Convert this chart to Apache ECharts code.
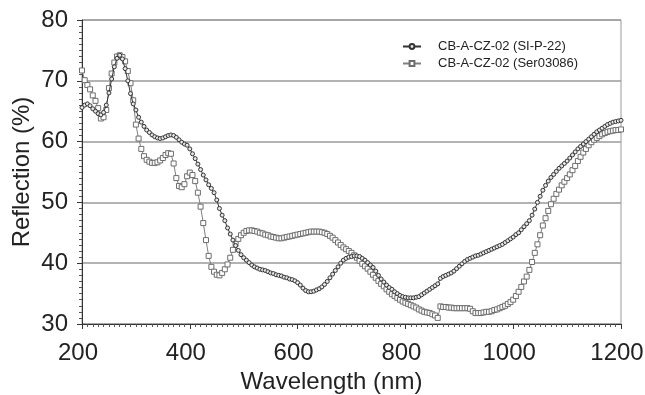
<!DOCTYPE html>
<html>
<head>
<meta charset="utf-8">
<script src="https://cdn.jsdelivr.net/npm/echarts@6/dist/echarts.min.js"></script>
<style>
  html, body { margin: 0; padding: 0; background: #fff; }
  #chart { width: 645px; height: 395px; }
</style>
</head>
<body>
<div id="chart"></div>
<script>
// Reflection spectra, sampled every 5 nm from 200 to 1200 nm
const wavelengths = Array.from({ length: 201 }, (_, i) => 200 + 5 * i);

const seriesNames = ['CB-A-CZ-02 (SI-P-22)', 'CB-A-CZ-02 (Ser03086)'];

const reflectionSIP22 = [
  65.6, 66.0, 66.2, 65.9, 65.4, 65.0, 64.6, 64.4, 64.8, 66.0,
  68.0, 70.3, 72.3, 73.7, 74.2, 73.6, 72.0, 70.0, 67.9, 66.2,
  65.2, 64.0, 63.2, 62.5, 61.9, 61.5, 61.1, 60.8, 60.6, 60.5,
  60.6, 60.8, 61.0, 61.1, 61.0, 60.7, 60.3, 59.9, 59.6, 59.4,
  58.8, 58.0, 57.2, 56.3, 55.4, 54.5, 53.7, 52.9, 52.3, 51.6,
  50.4, 49.0, 47.9, 47.0, 45.8, 44.8, 43.8, 42.9, 42.1, 41.4,
  40.9, 40.5, 40.1, 39.7, 39.4, 39.2, 39.0, 38.9, 38.8, 38.6,
  38.4, 38.3, 38.1, 38.0, 37.9, 37.7, 37.6, 37.4, 37.3, 37.1,
  36.8, 36.4, 35.9, 35.5, 35.3, 35.3, 35.4, 35.6, 35.8, 36.1,
  36.5, 37.0, 37.6, 38.2, 38.8, 39.4, 40.0, 40.5, 40.8, 41.0,
  41.1, 41.2, 41.2, 41.1, 40.8, 40.5, 40.1, 39.7, 39.3, 38.7,
  38.0, 37.4, 36.9, 36.4, 36.0, 35.7, 35.3, 35.0, 34.7, 34.5,
  34.4, 34.3, 34.3, 34.3, 34.4, 34.5, 34.8, 35.1, 35.4, 35.7,
  36.0, 36.3, 36.6, 37.5, 37.8, 38.0, 38.2, 38.4, 38.7, 39.1,
  39.5, 39.9, 40.3, 40.6, 40.8, 41.0, 41.2, 41.3, 41.5, 41.7,
  41.9, 42.1, 42.3, 42.5, 42.7, 42.9, 43.1, 43.4, 43.7, 44.0,
  44.3, 44.7, 45.0, 45.5, 46.0, 46.5, 47.0, 47.9, 48.9, 50.0,
  51.0, 52.0, 52.8, 53.5, 54.1, 54.6, 55.1, 55.6, 56.0, 56.4,
  56.8, 57.3, 57.8, 58.3, 58.8, 59.2, 59.6, 60.0, 60.4, 60.8,
  61.2, 61.6, 61.9, 62.2, 62.5, 62.8, 63.0, 63.2, 63.3, 63.4,
  63.5
];

const reflectionSer03086 = [
  71.7, 70.1, 69.3, 68.6, 67.6, 66.7, 65.5, 63.8, 64.0, 65.2,
  68.8, 71.2, 73.0, 74.0, 74.2, 73.9, 73.2, 71.6, 69.6, 66.8,
  62.8, 60.5, 58.8, 57.6, 57.0, 56.7, 56.5, 56.5, 56.6, 56.9,
  57.3, 57.8, 58.1, 58.0, 56.4, 54.0, 52.7, 52.5, 53.0, 54.3,
  54.9, 54.5, 53.5, 51.6, 49.3, 46.6, 43.8, 41.2, 39.4, 38.6,
  38.1, 38.0, 38.4, 39.0, 39.8, 40.9, 42.2, 43.2, 44.0, 44.6,
  45.0, 45.3, 45.4, 45.4, 45.3, 45.2, 45.0, 44.9, 44.7, 44.6,
  44.4, 44.3, 44.2, 44.1, 44.1, 44.2, 44.3, 44.4, 44.5, 44.6,
  44.7, 44.8, 44.9, 45.0, 45.1, 45.2, 45.2, 45.2, 45.2, 45.1,
  45.0, 44.8, 44.5, 44.2, 43.8, 43.4, 43.0, 42.6, 42.3, 42.0,
  41.7, 41.3, 40.9, 40.4, 39.9, 39.5, 39.1, 38.6, 38.1, 37.6,
  37.1, 36.6, 36.2, 35.7, 35.3, 34.9, 34.6, 34.3, 34.0, 33.7,
  33.5, 33.3, 33.1, 32.9, 32.7, 32.4, 32.2, 32.0, 31.9, 31.8,
  31.6, 31.4, 31.0, 32.9, 32.8, 32.8, 32.7, 32.7, 32.6, 32.6,
  32.6, 32.6, 32.6, 32.6, 32.5, 32.1, 31.8, 31.8, 31.8, 31.9,
  32.0, 32.0, 32.1, 32.3, 32.4, 32.6, 32.8, 33.0, 33.3, 33.6,
  34.0, 34.6, 35.3, 36.1, 37.0, 37.8, 38.9, 40.2, 41.7, 43.1,
  44.6, 46.2, 47.4, 48.6, 49.7, 50.6, 51.4, 52.1, 52.8, 53.4,
  54.0, 54.6, 55.3, 56.0, 56.8, 57.5, 58.2, 58.8, 59.4, 59.9,
  60.3, 60.6, 60.9, 61.2, 61.4, 61.6, 61.7, 61.8, 61.9, 61.9,
  62.0
];

const xTicks = { min: 200, max: 1200, interval: 200 };
const yTicks = { min: 30, max: 80, interval: 10 };

const pairs = (ys) => wavelengths.map((w, i) => [w, ys[i]]);

const chart = echarts.init(document.getElementById('chart'), null, { renderer: 'canvas' });

const font = 'Liberation Sans, Arial, Helvetica, sans-serif';
const plainNumber = (v) => String(v);

chart.setOption({
  animation: false,
  backgroundColor: '#fff',
  grid: {
    left: 82, right: 24, top: 20, bottom: 71,
    outerBoundsMode: 'none',
    containLabel: false,
    show: true, borderColor: '#9a9a9a', borderWidth: 1
  },
  legend: {
    orient: 'vertical',
    left: 397, top: 35,
    itemWidth: 18, itemHeight: 6, itemGap: 4,
    data: seriesNames,
    textStyle: { fontFamily: font, fontSize: 13, color: '#222', padding: [0, 0, 0, 12] }
  },
  xAxis: {
    type: 'value',
    min: xTicks.min, max: xTicks.max, interval: xTicks.interval,
    name: 'Wavelength (nm)',
    nameLocation: 'middle', nameGap: 42,
    nameTextStyle: { fontFamily: font, fontSize: 24, color: '#222', padding: [0, 40, 0, 0] },
    axisLine: { show: true, lineStyle: { color: '#333', width: 1 } },
    axisTick: { show: true, length: 5, lineStyle: { color: '#333' } },
    minorTick: { show: true, splitNumber: 20, length: 3, lineStyle: { color: '#555' } },
    splitLine: { show: false },
    axisLabel: {
      fontFamily: font, fontSize: 24, color: '#222', margin: 17,
      padding: [0, 8, 0, 0],
      formatter: plainNumber
    }
  },
  yAxis: {
    type: 'value',
    min: yTicks.min, max: yTicks.max, interval: yTicks.interval,
    name: 'Reflection (%)',
    nameLocation: 'middle', nameGap: 48,
    nameMoveOverlap: false,
    nameTextStyle: { fontFamily: font, fontSize: 24, color: '#222' },
    axisLine: { show: true, lineStyle: { color: '#333', width: 1 } },
    axisTick: { show: true, length: 5, lineStyle: { color: '#333' } },
    minorTick: { show: true, splitNumber: 10, length: 3, lineStyle: { color: '#555' } },
    splitLine: { show: true, lineStyle: { color: '#9a9a9a', width: 1.5 } },
    axisLabel: { fontFamily: font, fontSize: 24, color: '#222', margin: 14, formatter: plainNumber }
  },
  series: [
    {
      name: seriesNames[0],
      type: 'line',
      data: pairs(reflectionSIP22),
      z: 3,
      symbol: 'circle',
      symbolSize: 4,
      showAllSymbol: true,
      lineStyle: { color: '#333', width: 1 },
      itemStyle: { color: '#e8e8e8', borderColor: '#333', borderWidth: 1 }
    },
    {
      name: seriesNames[1],
      type: 'line',
      data: pairs(reflectionSer03086),
      z: 2,
      symbol: 'rect',
      symbolSize: 5,
      showAllSymbol: true,
      lineStyle: { color: '#808080', width: 1 },
      itemStyle: { color: '#fff', borderColor: '#6e6e6e', borderWidth: 1 }
    }
  ]
});
</script>
</body>
</html>
